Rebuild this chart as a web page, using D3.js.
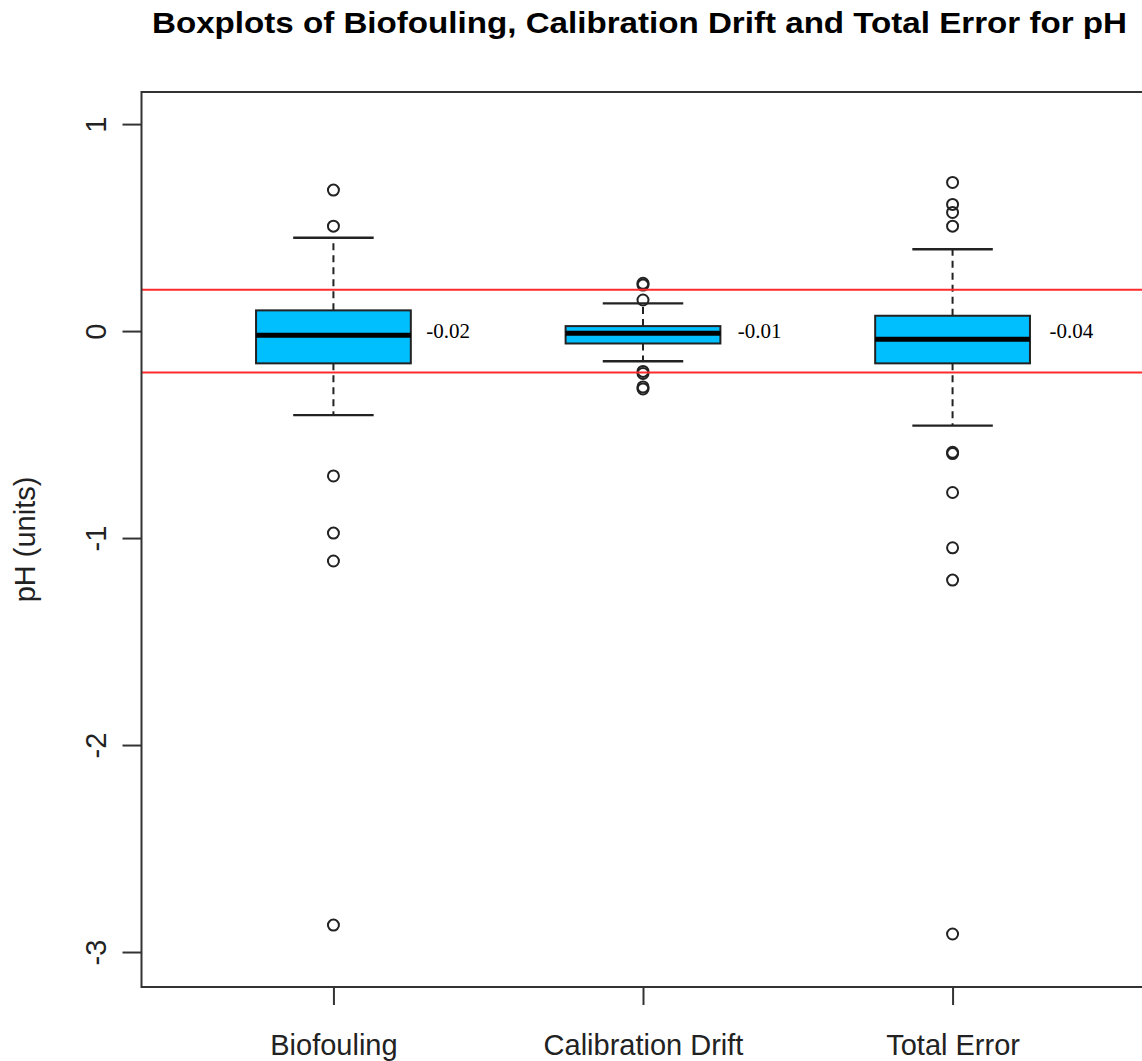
<!DOCTYPE html>
<html>
<head>
<meta charset="utf-8">
<script src="https://cdn.jsdelivr.net/npm/d3@7"></script>
<style>
  html, body { margin: 0; padding: 0; background: #fff; }
  svg { display: block; }
</style>
</head>
<body>
<script>
// Box statistics for pH error components (units)
const categories   = ["Biofouling", "Calibration Drift", "Total Error"];
const whiskerLow   = [-0.406, -0.146, -0.457];
const q1           = [-0.156, -0.060, -0.156];
const medians      = [-0.02, -0.01, -0.04];
const q3           = [0.100, 0.024, 0.074];
const whiskerHigh  = [0.451, 0.134, 0.395];
const outliersBio  = [0.681, 0.507, -0.700, -0.976, -1.111, -2.870];
const outliersCal  = [0.231, 0.222, 0.150, -0.195, -0.205, -0.270, -0.280];
const outliersTot  = [0.718, 0.612, 0.573, 0.507, -0.586, -0.592, -0.780, -1.047, -1.203, -2.913];
const outliers     = [outliersBio, outliersCal, outliersTot];
const limitLines   = [0.2, -0.2];
const yTicks       = [1, 0, -1, -2, -3];

const W = 1142, H = 1061;
const frame = { left: 141.5, right: 1144.5, top: 92, bottom: 987 };

const svg = d3.select("body").append("svg")
  .attr("width", W).attr("height", H);

const x = d3.scaleLinear().domain([0.38, 3.62]).range([frame.left, frame.right]);
const y = d3.scaleLinear().domain([-3.169, 1.155]).range([frame.bottom, frame.top]);

const ink = "#222";
const sans = "'Liberation Sans', Arial, sans-serif";
const serif = "'Liberation Serif', 'Times New Roman', serif";
const boxHalf = 0.25, stapleHalf = 0.13;
// plain hyphen for negative numbers
const fmt2 = v => d3.format(".2f")(v).replace("\u2212", "-");

// Title
svg.append("text")
  .attr("x", 639.5).attr("y", 33)
  .attr("text-anchor", "middle")
  .attr("font-family", sans).attr("font-weight", "bold")
  .attr("font-size", 30).attr("fill", "#000")
  .attr("textLength", 975).attr("lengthAdjust", "spacingAndGlyphs")
  .text("Boxplots of Biofouling, Calibration Drift and Total Error for pH");

// Plot region clip
svg.append("clipPath").attr("id", "plotClip")
  .append("rect")
  .attr("x", frame.left).attr("y", frame.top)
  .attr("width", frame.right - frame.left).attr("height", frame.bottom - frame.top);

const plot = svg.append("g").attr("clip-path", "url(#plotClip)");

const data = categories.map((c, i) => ({
  name: c, pos: i + 1,
  lo: whiskerLow[i], q1: q1[i], med: medians[i], q3: q3[i], hi: whiskerHigh[i],
  out: outliers[i]
}));

const groups = plot.selectAll("g.box").data(data).join("g").attr("class", "box");

// Dashed whiskers
groups.append("line")
  .attr("x1", d => x(d.pos)).attr("x2", d => x(d.pos))
  .attr("y1", d => y(d.q3)).attr("y2", d => y(d.hi))
  .attr("stroke", ink).attr("stroke-width", 2).attr("stroke-dasharray", "7,5");
groups.append("line")
  .attr("x1", d => x(d.pos)).attr("x2", d => x(d.pos))
  .attr("y1", d => y(d.q1)).attr("y2", d => y(d.lo))
  .attr("stroke", ink).attr("stroke-width", 2).attr("stroke-dasharray", "7,5");

// Staples
["lo", "hi"].forEach(k => {
  groups.append("line")
    .attr("x1", d => x(d.pos - stapleHalf)).attr("x2", d => x(d.pos + stapleHalf))
    .attr("y1", d => y(d[k])).attr("y2", d => y(d[k]))
    .attr("stroke", ink).attr("stroke-width", 2.4);
});

// Boxes
groups.append("rect")
  .attr("x", d => x(d.pos - boxHalf))
  .attr("width", d => x(d.pos + boxHalf) - x(d.pos - boxHalf))
  .attr("y", d => y(d.q3))
  .attr("height", d => y(d.q1) - y(d.q3))
  .attr("fill", "#00BFFF").attr("stroke", ink).attr("stroke-width", 2);

// Medians
groups.append("line")
  .attr("x1", d => x(d.pos - boxHalf)).attr("x2", d => x(d.pos + boxHalf))
  .attr("y1", d => y(d.med)).attr("y2", d => y(d.med))
  .attr("stroke", "#000").attr("stroke-width", 5);

// Outliers
groups.selectAll("circle").data(d => d.out.map(v => ({ pos: d.pos, v })))
  .join("circle")
  .attr("cx", o => x(o.pos)).attr("cy", o => y(o.v)).attr("r", 5.5)
  .attr("fill", "none").attr("stroke", ink).attr("stroke-width", 2);

// Reference limits at +/- 0.2
plot.selectAll("line.limit").data(limitLines).join("line")
  .attr("class", "limit")
  .attr("x1", frame.left).attr("x2", frame.right)
  .attr("y1", d => y(d)).attr("y2", d => y(d))
  .attr("stroke", "#ff2a2a").attr("stroke-width", 2);

// Median labels, set on the zero line beside each box
svg.selectAll("text.medlab").data(data).join("text")
  .attr("class", "medlab")
  .attr("x", d => x(d.pos + 0.3) + 2 * (d.pos - 1)).attr("y", y(0))
  .attr("dy", "0.33em")
  .attr("font-family", serif).attr("font-size", 21).attr("fill", "#000")
  .text(d => fmt2(d.med));

// Frame
svg.append("rect")
  .attr("x", frame.left).attr("y", frame.top)
  .attr("width", frame.right - frame.left).attr("height", frame.bottom - frame.top)
  .attr("fill", "none").attr("stroke", "#333").attr("stroke-width", 2);

// Y axis
const yAxis = svg.append("g")
  .attr("transform", `translate(${frame.left},0)`)
  .call(d3.axisLeft(y).tickValues(yTicks).tickSize(19).tickFormat(d3.format("d")));
yAxis.select(".domain").remove();
yAxis.selectAll(".tick line").attr("stroke", "#333").attr("stroke-width", 2);
yAxis.selectAll(".tick text")
  .attr("x", null).attr("dy", null)
  .attr("transform", "translate(-36,0) rotate(-90)")
  .attr("text-anchor", "middle")
  .attr("font-family", sans).attr("font-size", 29).attr("fill", ink)
  .text(d => d < 0 ? "-" + Math.abs(d) : String(d));

// X axis
const xAxis = svg.append("g")
  .attr("transform", `translate(0,${frame.bottom})`)
  .call(d3.axisBottom(x).tickValues([1, 2, 3]).tickSize(18)
    .tickFormat(d => categories[d - 1]));
xAxis.select(".domain").remove();
xAxis.selectAll(".tick line").attr("stroke", "#333").attr("stroke-width", 2);
xAxis.selectAll(".tick text")
  .attr("y", 68).attr("dy", null)
  .attr("font-family", sans).attr("font-size", 29).attr("fill", ink);

// Y axis title
svg.append("text")
  .attr("transform", `translate(34.5,${(y(1.155) + y(-3.169)) / 2}) rotate(-90)`)
  .attr("text-anchor", "middle")
  .attr("font-family", sans).attr("font-size", 29).attr("fill", ink)
  .text("pH (units)");
</script>
</body>
</html>
